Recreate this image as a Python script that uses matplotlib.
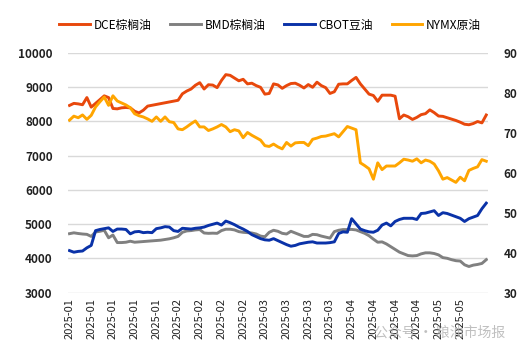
import numpy as np
import matplotlib
matplotlib.use("Agg")
import matplotlib.pyplot as plt

plt.rcParams['font.family'] = ['Noto Sans CJK SC', 'DejaVu Sans']

# x labels, one every 5 trading days
tick_labels = ["2025-01"] * 5 + ["2025-02"] * 4 + ["2025-03"] * 4 + ["2025-04"] * 4 + ["2025-05"] * 2

nan = np.nan
dce = [8470, 8530, 8515, 8490, 8700, 8420, 8530, 8640, 8750, 8700,
       8380, 8370, 8400, 8410, 8400, 8300, 8250, 8330, 8450, nan,
       nan, nan, nan, nan, nan, 8620, 8810, 8890, 8950, 9060,
       9135, 8950, 9075, 9065, 8990, 9200, 9370, 9350, 9270, 9190,
       9234, 9100, 9120, 9050, 9000, 8800, 8820, 9100, 9070, 8970,
       9050, 9110, 9120, 9060, 8980, 9080, 9000, 9150, 9050, 8990,
       8820, 8870, 9090, 9100, 9100, 9200, 9290, 9100, 8950, 8800,
       8760, 8590, 8770, 8770, 8770, 8740, 8080, 8190, 8140, 8060,
       8120, 8200, 8230, 8340, 8260, 8160, 8150, 8110, 8070, 8030,
       7980, 7920, 7905, 7940, 8000, 7960, 8190]

bmd = [4720, 4745, 4725, 4710, 4700, 4640, 4770, 4790, 4820, 4600,
       4680, 4460, 4460, 4470, 4500, 4470, 4480, 4490, 4500, 4510,
       4520, 4530, 4550, 4570, 4600, 4640, 4760, 4800, 4810, 4830,
       4840, 4740, 4730, 4735, 4730, 4810, 4850, 4850, 4830, 4780,
       4760, 4750, 4740, 4710, 4650, 4630, 4760, 4820, 4790, 4730,
       4710, 4790, 4740, 4690, 4640, 4640, 4700, 4690, 4650, 4620,
       4590, 4780, 4820, 4840, 4840, 4845, 4830, 4780, 4730, 4660,
       4560, 4470, 4480, 4420, 4340, 4260, 4180, 4130, 4080, 4070,
       4080, 4130, 4160, 4160, 4140, 4100, 4020, 4000, 3960, 3930,
       3920, 3810, 3760, 3800, 3820, 3850, 3960]

cbot = [40.5, 40.1, 40.3, 40.4, 41.2, 41.8, 45.5, 45.8, 46.0, 46.2,
        45.3, 45.9, 45.9, 45.8, 44.7, 45.2, 45.3, 45.0, 45.1, 45.0,
        46.0, 46.2, 46.5, 46.4, 45.5, 45.3, 46.1, 46.0, 45.9, 46.1,
        46.2, 46.4, 46.8, 47.1, 47.4, 46.9, 47.9, 47.5, 47.0, 46.4,
        45.9, 45.3, 44.5, 44.0, 43.5, 43.2, 43.1, 43.5, 43.0, 42.5,
        42.0, 41.6, 41.8, 42.2, 42.4, 42.6, 42.7, 42.4, 42.4, 42.4,
        42.5, 42.7, 44.8, 45.2, 45.1, 48.5, 47.2, 45.9, 45.5, 45.2,
        45.1, 45.6, 46.9, 47.4, 46.7, 47.8, 48.3, 48.6, 48.6, 48.6,
        48.3, 49.8, 49.9, 50.2, 50.5, 49.3, 50.0, 49.8, 49.4, 49.0,
        48.6, 47.8, 48.5, 48.9, 49.3, 51.0, 52.4]

nymx = [73.2, 74.2, 73.8, 74.5, 73.4, 74.4, 76.5, 77.8, 79.0, 76.9,
        79.3, 78.0, 77.5, 77.0, 76.3, 74.8, 74.3, 74.0, 73.5, 72.9,
        74.0, 72.9, 74.0, 72.8, 72.6, 71.0, 70.8, 71.5, 72.3, 73.0,
        71.5, 71.5, 70.6, 71.0, 71.5, 72.1, 71.5, 70.3, 70.8, 70.5,
        68.8, 70.1, 69.4, 68.8, 68.2, 66.8, 66.6, 67.2, 66.5, 66.0,
        67.6, 66.7, 67.5, 67.6, 67.6, 66.8, 68.4, 68.7, 69.1, 69.2,
        69.5, 69.8, 69.0, 70.3, 71.6, 71.2, 70.8, 62.5, 61.8, 61.0,
        58.4, 62.5, 60.8, 61.7, 61.7, 61.7, 62.5, 63.4, 63.2, 62.9,
        63.5, 62.5, 63.2, 62.9, 62.2, 60.5, 58.4, 58.8, 58.2, 57.6,
        58.9, 58.0, 60.6, 61.1, 61.5, 63.3, 62.9]

x = np.arange(len(dce))


def valid(vals):
    v = np.array(vals, dtype=float)
    m = ~np.isnan(v)
    return x[m], v[m]


fig = plt.figure(figsize=(5.22, 3.55), dpi=100)
ax = fig.add_axes([68 / 522, 1 - 292.5 / 355, 420 / 522, 239.4 / 355])
ax2 = ax.twinx()

l1, = ax.plot(*valid(dce), color="#E8480C", linewidth=2.1, label="DCE棕榈油")
l2, = ax.plot(*valid(bmd), color="#808080", linewidth=2.1, label="BMD棕榈油")
l3, = ax2.plot(*valid(cbot), color="#0A32A8", linewidth=2.1, label="CBOT豆油")
l4, = ax2.plot(*valid(nymx), color="#FFA500", linewidth=2.1, label="NYMX原油")

ax.set_ylim(3000, 10000)
ax.set_yticks(range(3000, 10001, 1000))
ax2.set_ylim(30, 90)
ax2.set_yticks(range(30, 91, 10))
ax.set_xlim(-0.35, 96.4)
ax.set_xticks(range(0, len(tick_labels) * 5, 5))
ax.set_xticklabels(tick_labels, rotation=90, fontsize=8, color="#222222")

ax.grid(axis="y", color="#D9D9D9", linewidth=1)
ax.set_axisbelow(True)
for a in (ax, ax2):
    for s in a.spines.values():
        s.set_visible(False)
    a.tick_params(length=0)
ax.tick_params(axis="y", pad=11, labelsize=8.5, labelcolor="#222222")
ax2.tick_params(axis="y", pad=11, labelsize=8.5, labelcolor="#222222")
ax.tick_params(axis="x", pad=4)
for t in ax.get_yticklabels() + ax2.get_yticklabels():
    t.set_fontweight("bold")

fig.legend(handles=[l1, l2, l3, l4], loc="center", bbox_to_anchor=(270 / 522, 1 - 25 / 355),
           ncol=4, frameon=False, fontsize=8.5, handlelength=2.6, handletextpad=0.3,
           columnspacing=1.6)

fig.text(505 / 522, 1 - 333 / 355, "公众号 · 粮油市场报", ha="right", va="center",
         fontsize=10, color="#B0B0B0", alpha=0.8)

fig.savefig("out.png", dpi=100)
